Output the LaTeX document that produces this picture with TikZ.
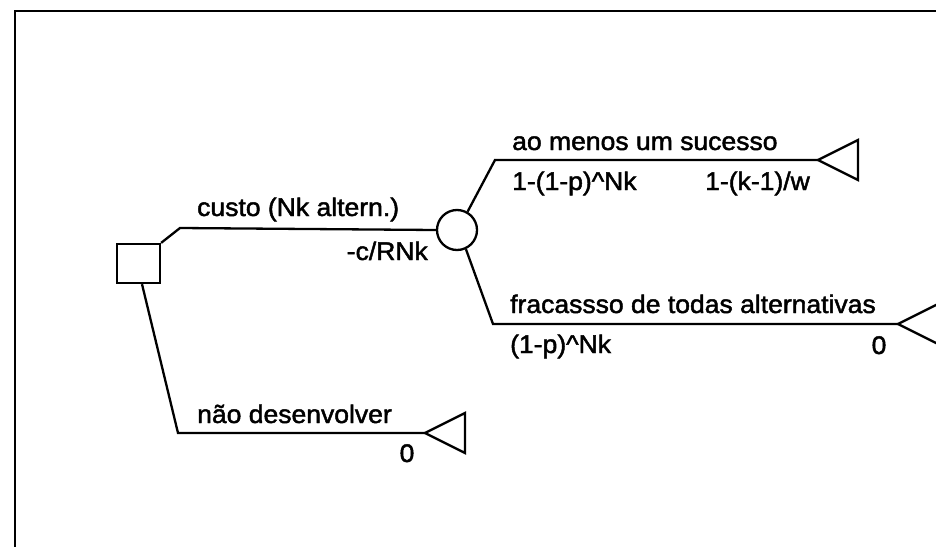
\documentclass[tikz,border=0pt]{standalone}
\usepackage{fontspec}
\setmainfont[FakeStretch=1.04,FakeBold=1.8]{Liberation Sans}
\begin{document}
\begin{tikzpicture}[x=1pt,y=-1pt,
  branch/.style={line width=2.3pt,line join=miter},
  lbl/.style={inner sep=0pt,font=\fontsize{25.5}{30}\selectfont},
  decision/.style={draw,line width=2.3pt,minimum width=43pt,minimum height=39pt,inner sep=0pt},
  chance/.style={draw,circle,line width=2.3pt,minimum size=40pt,inner sep=0pt}]
\useasboundingbox (0,0) rectangle (936,546);
\clip (0,0) rectangle (936,546);
% outer frame
\draw[line width=2.6pt] (15,548) -- (15,11) -- (940,11);

% decision and chance nodes
\node[decision] (dec) at (138.5,263.5) {};
\node[chance] (ch) at (457,230) {};

% terminal tips
\coordinate (t1) at (818,160);
\coordinate (t2) at (898,324);
\coordinate (t3) at (425,433);
\foreach \t in {t1,t2,t3}
  \draw[branch] (\t) -- ++(40,-20) -- ++(0,40) -- cycle;

% branches
\draw[branch] (dec.north east) -- (180,228) -- (ch.west);
\draw[branch] (ch.60) -- (495,160) -- (t1);
\draw[branch] (ch.-65) -- (493,324) -- (t2);
\draw[branch] (dec.south) ++(3.5,0) coordinate (dbot) (dbot) -- (178,433) -- (t3);

% labels
\node[lbl,anchor=base west] (l1) at (197,216) {custo (Nk altern.)};
\node[lbl,anchor=base east] (v1) at (428,260) {-c/RNk};
\node[lbl,anchor=base west] (l2) at (512,150) {ao menos um sucesso};
\node[lbl,anchor=base west] (p2) at (512,190) {1-(1-p)\^{}Nk};
\node[lbl,anchor=base west] (v2) at (705,190) {1-(k-1)/w};
\node[lbl,anchor=base west] (l3) at (510,313) {fracassso de todas alternativas};
\node[lbl,anchor=base west] (p3) at (510,353) {(1-p)\^{}Nk};
\node[lbl,anchor=base] (v3) at (879,354) {0};
\node[lbl,anchor=base west] (l4) at (197,423) {não desenvolver};
\node[lbl,anchor=base] (v4) at (407,462) {0};
\end{tikzpicture}
\end{document}
